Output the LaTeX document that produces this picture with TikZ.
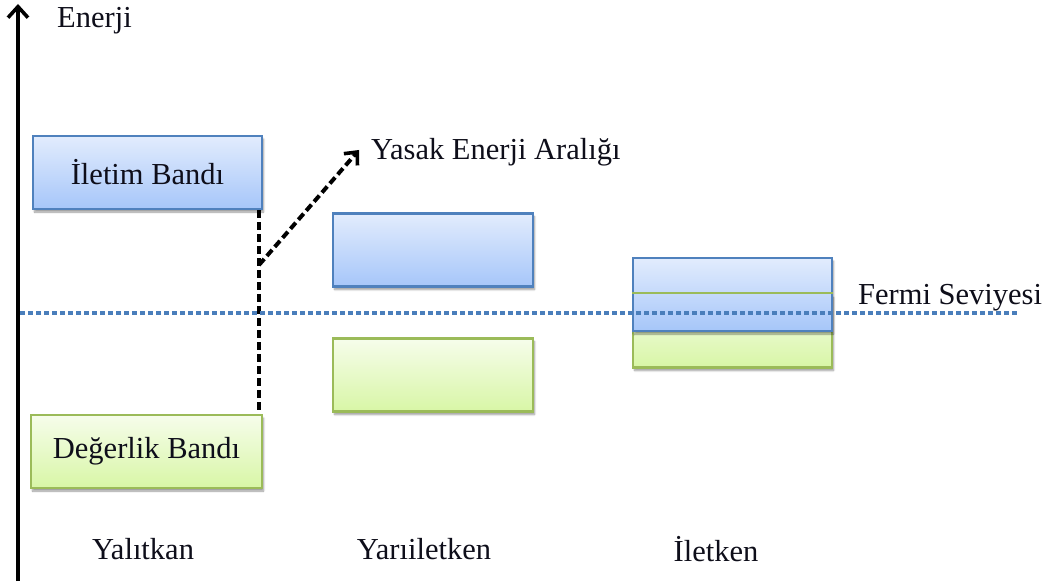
\documentclass[tikz,border=0pt]{standalone}
\usepackage{fontspec}
\setmainfont{Liberation Serif}
\usetikzlibrary{arrows.meta,shadows.blur}
\definecolor{bandblueborder}{HTML}{4F81BD}
\definecolor{bandbluetop}{HTML}{E2ECFD}
\definecolor{bandbluebot}{HTML}{A6C6F9}
\definecolor{bandgreenborder}{HTML}{9BBB59}
\definecolor{bandgreentop}{HTML}{F6FDEB}
\definecolor{bandgreenbot}{HTML}{D8F6A6}
\definecolor{fermiblue}{HTML}{4A7EBB}
\definecolor{txt}{HTML}{0E0E1A}
\tikzset{
  lbl/.style={font=\fontsize{30.5}{36}\selectfont, text=txt, inner sep=0pt},
  bandbox/.style={minimum width=#1, minimum height=73pt, inner sep=0pt, line width=2.4pt,
    blur shadow={shadow xshift=1.5pt, shadow yshift=-3pt, shadow blur steps=6, shadow opacity=40},
    font=\fontsize{30.5}{36}\selectfont, text=txt},
  conduction/.style={bandbox=#1, draw=bandblueborder, top color=bandbluetop, bottom color=bandbluebot},
  valence/.style={bandbox=#1, draw=bandgreenborder, top color=bandgreentop, bottom color=bandgreenbot},
  gapline/.style={line width=4.5pt, dash pattern=on 8pt off 4pt},
  fermiline/.style={draw=fermiblue, line width=4.5pt, dash pattern=on 5pt off 3pt},
}
\begin{document}
\begin{tikzpicture}[x=1pt,y=-1pt]
\path[use as bounding box] (0,0) rectangle (1053,585);

% energy axis
\coordinate (axisbot) at (18,581);
\coordinate (axistop) at (18,4);
\draw[line width=3.8pt, -{Straight Barb[length=11pt,width=20pt,line width=3.6pt]}] (axisbot) -- (axistop);
\node[lbl, anchor=west] (enerji) at (57,21) {Enerji};

% insulator
\node[conduction=229pt] (iletim) at (147.5,172.5) {İletim Bandı};
\node[valence=231pt] (degerlik) at (146.5,451.5) {Değerlik Bandı};

% semiconductor
\node[conduction=200pt] (ycb) at (433,250) {};
\node[valence=200pt] (yvb) at (433,375) {};

% conductor (overlapping bands)
\node[valence=199pt] (ivb) at (732.5,331) {};
\node[conduction=199pt] (icb) at (732.5,294.5) {};
\draw[bandgreenborder, line width=2.4pt] (ivb.north west) -- (ivb.north east);

% band gap marker
\coordinate (gapx) at (259,0);
\coordinate (gapmid) at (259,265);
\draw[gapline] (iletim.south -| gapx) -- (degerlik.north -| gapx);
\node[lbl, anchor=west] (yasak) at (371,152) {Yasak Enerji Aralığı};
\draw[line width=4pt, dash pattern=on 8pt off 4pt,
  -{Straight Barb[length=10pt,width=18pt,line width=3.6pt]}] (gapmid) -- (359,150);

% Fermi level
\coordinate (fermiL) at (20,313);
\coordinate (fermiR) at (1018,313);
\draw[fermiline] (fermiL) -- (fermiR);
\node[lbl, anchor=west] (fermi) at (858,298) {Fermi Seviyesi};

% material labels
\node[lbl] (yalitkan) at (143,549) {Yalıtkan};
\node[lbl] (yariiletken) at (424,549) {Yarıiletken};
\node[lbl] (iletken) at (716,549) {İletken};
\end{tikzpicture}
\end{document}
